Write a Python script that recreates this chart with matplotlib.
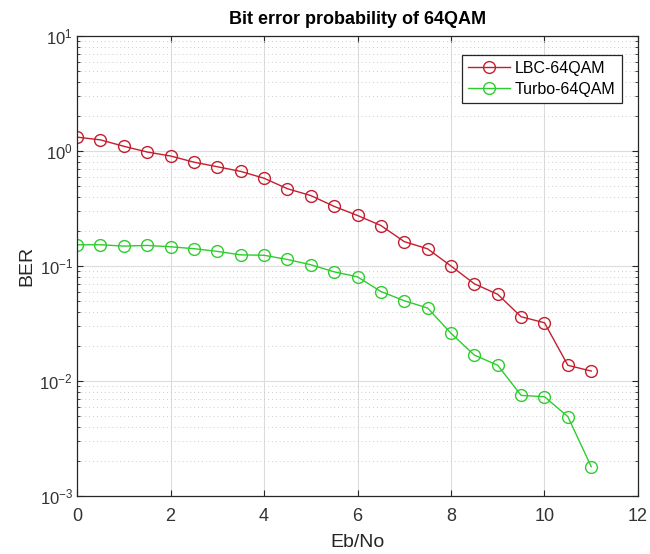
import numpy as np
import matplotlib
matplotlib.use('Agg')
import matplotlib.pyplot as plt
from matplotlib.ticker import LogLocator, NullFormatter

plt.rcParams['font.family'] = ['Liberation Sans', 'DejaVu Sans']

# Eb/No values (dB)
ebno = [0, 0.5, 1, 1.5, 2, 2.5, 3, 3.5, 4, 4.5, 5, 5.5,
        6, 6.5, 7, 7.5, 8, 8.5, 9, 9.5, 10, 10.5, 11]

ber_lbc = [1.32, 1.25, 1.10, 0.98, 0.905, 0.80, 0.73, 0.665, 0.58, 0.47, 0.41, 0.33,
           0.275, 0.225, 0.163, 0.141, 0.100, 0.070, 0.0567, 0.0362, 0.0321, 0.0137, 0.0122]
ber_turbo = [0.153, 0.153, 0.149, 0.151, 0.147, 0.1415, 0.134, 0.125, 0.124, 0.114, 0.1026, 0.089,
             0.0805, 0.060, 0.0499, 0.0431, 0.0260, 0.0168, 0.0137, 0.0075, 0.0073, 0.0049, 0.0018]

labels = ['LBC-64QAM', 'Turbo-64QAM']

fig = plt.figure(figsize=(6.5, 5.54), dpi=100)
ax = fig.add_axes([0.1185, 0.1047, 0.863, 0.8303])

ax.semilogy(ebno, ber_lbc, '-o', color='#c41e2e', mfc='none', mec='#c41e2e',
            ms=8.5, lw=1.0, label=labels[0])
ax.semilogy(ebno, ber_turbo, '-o', color='#2ecc2e', mfc='none', mec='#2ecc2e',
            ms=8.5, lw=1.0, label=labels[1])

ax.set_xlim(0, 12)
ax.set_ylim(1e-3, 1e1)
ax.set_xticks(np.arange(0, 13, 2))
ax.yaxis.set_major_locator(LogLocator(base=10, numticks=10))
ax.yaxis.set_minor_locator(LogLocator(base=10, subs=np.arange(2, 10), numticks=10))
ax.yaxis.set_minor_formatter(NullFormatter())

ax.grid(True, which='major', color='#dcdcdc', lw=0.8, ls='-')
ax.grid(True, which='minor', axis='y', color='#cccccc', lw=0.7, ls=(0, (1, 3)))
ax.set_axisbelow(True)

ax.tick_params(which='both', direction='in', top=True, right=True, colors='#262626',
               labelsize=13, labelcolor='#333333')
ax.tick_params(which='major', length=4)
ax.tick_params(which='minor', length=2)
ax.tick_params(axis='x', which='major', pad=9)
ax.tick_params(axis='y', which='major', pad=3, labelsize=12)
for s in ax.spines.values():
    s.set_color('#262626')
    s.set_linewidth(0.9)

ax.set_title('Bit error probability of 64QAM', fontsize=13, fontweight='bold', pad=9)
ax.set_xlabel('Eb/No', fontsize=14, color='#262626', labelpad=6)
ax.set_ylabel('BER', fontsize=14, color='#262626')
ax.yaxis.set_label_coords(-0.074, 0.5)

leg = ax.legend(loc='upper right', bbox_to_anchor=(0.985, 0.977), fontsize=11.5,
                fancybox=False, edgecolor='#262626', framealpha=1,
                handlelength=2.6, borderpad=0.4, labelspacing=0.35, handletextpad=0.3)
leg.get_frame().set_linewidth(0.9)

fig.savefig('out.png', dpi=100)
